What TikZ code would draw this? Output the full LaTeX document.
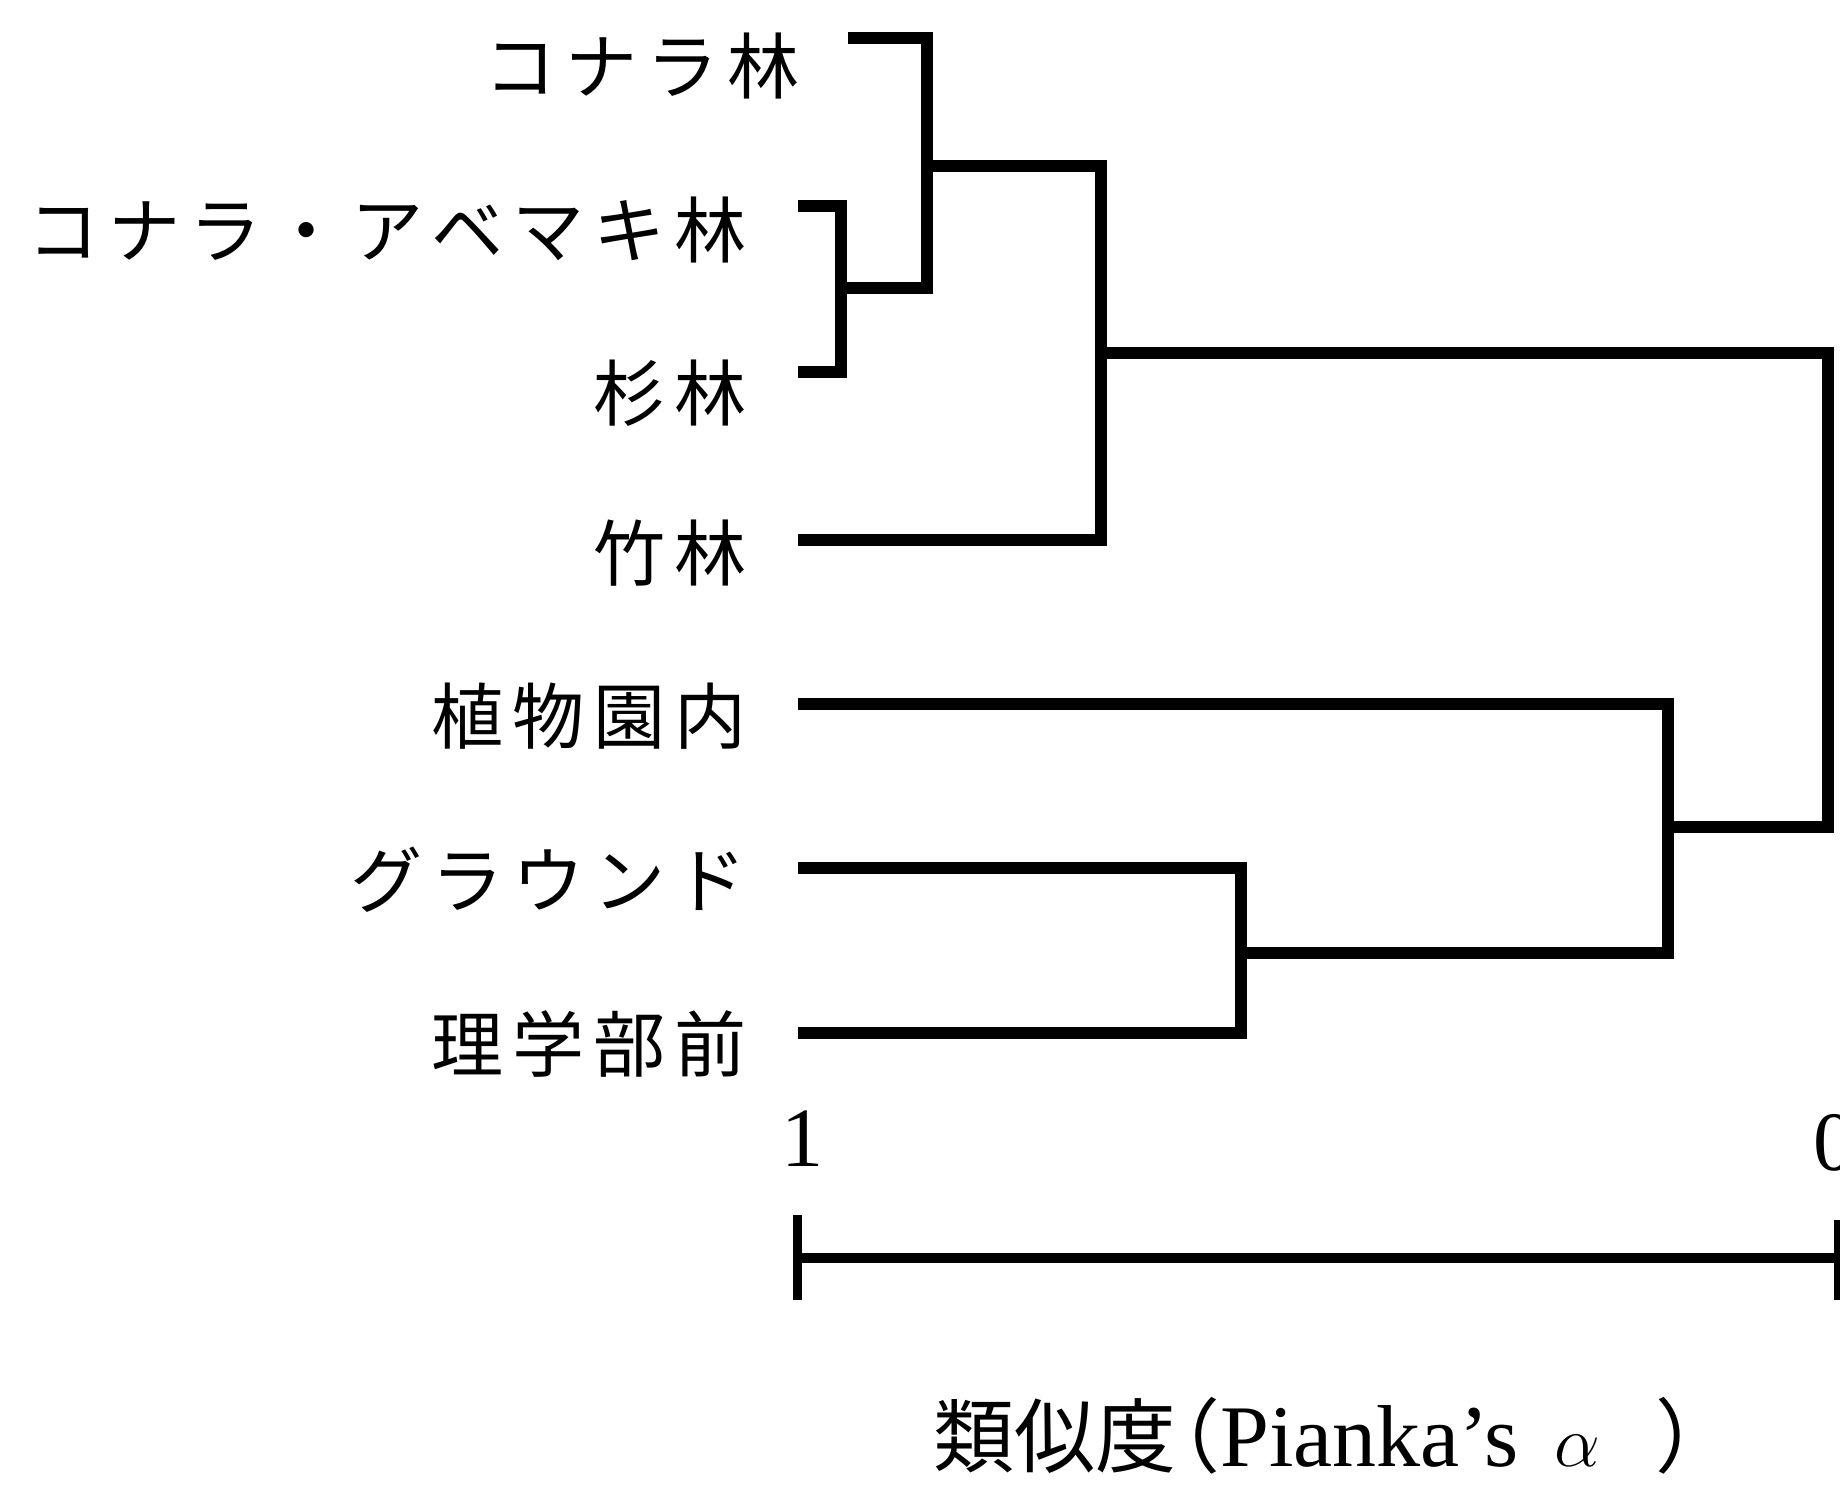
\documentclass[tikz,border=0pt]{standalone}
\usepackage{fontspec}
\setmainfont{Liberation Serif}
\newfontfamily\jplabel{Noto Sans CJK JP}[LetterSpace=12.5]
\newfontfamily\jpcap{Noto Sans CJK JP}
\tikzset{
leaf/.style={ % site names, right aligned
anchor=east,
inner sep=0pt,
font=\jplabel\fontsize{20.5pt}{20.5pt}\selectfont},
branch/.style={ % dendrogram lines
draw,
line width=1.2mm,
line join=miter},
tickmark/.style={draw, line width=0.9mm},
scalelabel/.style={inner sep=0pt, font=\fontsize{24pt}{24pt}\selectfont}}

\begin{document}
\begin{tikzpicture}[x=0.1mm, y=-0.1mm]
\useasboundingbox (0,0) rectangle (1840,1485);
% site names
\node[leaf] (konara) at (800,66) {コナラ林};
\node[leaf] (abemaki) at (747,230) {コナラ・アベマキ林};
\node[leaf] (sugi) at (747,393) {杉林};
\node[leaf] (take) at (747,553) {竹林};
\node[leaf] (shokubutsu) at (747,716) {植物園内};
\node[leaf] (ground) at (747,880) {グラウンド};
\node[leaf] (rigaku) at (747,1044) {理学部前};
% leaf ends
\coordinate (konara-e) at (848,38);
\coordinate (abemaki-e) at (798,206);
\coordinate (sugi-e) at (798,372);
\coordinate (take-e) at (798,540);
\coordinate (shokubutsu-e) at (798,704);
\coordinate (ground-e) at (798,868);
\coordinate (rigaku-e) at (798,1033);
% cluster joins
\coordinate (c23) at (841,288);
\coordinate (c123) at (927,166);
\coordinate (c1234) at (1101,353);
\coordinate (c67) at (1241,953);
\coordinate (c567) at (1668,827);
\coordinate (root) at (1828,590);
\draw[branch] (abemaki-e) -| (c23) |- (sugi-e);
\draw[branch] (konara-e) -| (c123) |- (c23);
\draw[branch] (c123) -| (c1234) |- (take-e);
\draw[branch] (ground-e) -| (c67) |- (rigaku-e);
\draw[branch] (shokubutsu-e) -| (c567) |- (c67);
\draw[branch] (c1234) -| (root) |- (c567);
% similarity scale
\node[scalelabel] (one) at (803,1139) {1};
\node[scalelabel] (zero) at (1835,1143) {0};
\coordinate (bar-l) at (797,1258);
\coordinate (bar-r) at (1846,1258);
\draw[branch, line width=1mm] (bar-l) -- (bar-r);
\draw[tickmark] (bar-l) ++(0,-43) -- ++(0,85);
\draw[tickmark] (bar-r) ++(-8,-38) -- ++(0,80);
\node[anchor=base west, inner sep=0pt, font=\fontsize{25pt}{25pt}\selectfont] (caption) at (933,1466)
  {{\jpcap\fontsize{23pt}{23pt}\selectfont 類似度\kern-0.45em（}Pianka’s\hspace{3.6mm}{\fontsize{20pt}{20pt}\selectfont$\alpha$}\hspace{5.5mm}{\jpcap\fontsize{23pt}{23pt}\selectfont ）}};
\end{tikzpicture}
\end{document}
